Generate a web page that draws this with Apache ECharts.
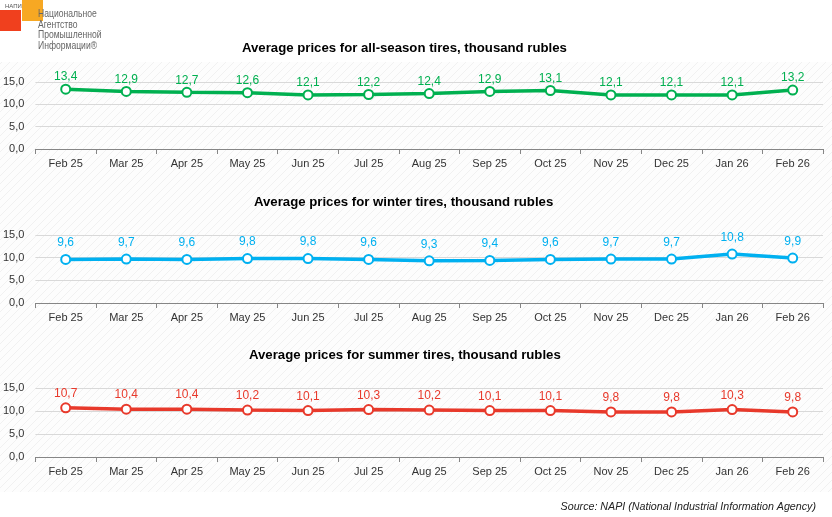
<!DOCTYPE html>
<html><head><meta charset="utf-8">
<script src="https://cdn.jsdelivr.net/npm/echarts@6/dist/echarts.min.js"></script>
<style>html,body{margin:0;padding:0;background:#fff}#c{width:832px;height:517px}</style>
</head><body><div id="c"></div>
<script>
const categories = ['Feb 25','Mar 25','Apr 25','May 25','Jun 25','Jul 25','Aug 25','Sep 25','Oct 25','Nov 25','Dec 25','Jan 26','Feb 26'];
const allSeason = [13.4,12.9,12.7,12.6,12.1,12.2,12.4,12.9,13.1,12.1,12.1,12.1,13.2];
const winter = [9.6,9.7,9.6,9.8,9.8,9.6,9.3,9.4,9.6,9.7,9.7,10.8,9.9];
const summer = [10.7,10.4,10.4,10.2,10.1,10.3,10.2,10.1,10.1,9.8,9.8,10.3,9.8];
const titles = ['Average prices for all-season tires, thousand rubles','Average prices for winter tires, thousand rubles','Average prices for summer tires, thousand rubles'];
const colors = ['#00B050','#00B0F0','#E8392B'];
const seriesData = [allSeason, winter, summer];

const pc = document.createElement('canvas'); pc.width = 8; pc.height = 8;
const pctx = pc.getContext('2d');
pctx.fillStyle = '#fdfdfd'; pctx.fillRect(0,0,8,8);
pctx.strokeStyle = '#f1f1f1'; pctx.lineWidth = 1;
pctx.beginPath(); pctx.moveTo(0,8); pctx.lineTo(8,0); pctx.moveTo(-4,4); pctx.lineTo(4,-4); pctx.moveTo(4,12); pctx.lineTo(12,4); pctx.stroke();

const tops = [82, 235, 388];
const heights = [67, 68, 69];
const titleY = [37, 191, 344];
const titleX = [237, 249, 244];
const labelDist = [0.5, 5, 2.5];
const fmt = v => v.toFixed(1).replace('.', ',');

const grids = [], xAxes = [], yAxes = [], series = [], titleArr = [];
for (let i = 0; i < 3; i++) {
  grids.push({left: 35, right: 9, top: tops[i], height: heights[i]});
  xAxes.push({type: 'category', gridIndex: i, data: categories, boundaryGap: true,
    axisLine: {lineStyle: {color: '#868686'}}, axisTick: {show: true, length: 5, lineStyle: {color: '#868686'}},
    axisLabel: {color: '#333', fontSize: 11, fontFamily: 'Liberation Sans, Arial', margin: 9}});
  yAxes.push({type: 'value', gridIndex: i, min: 0, max: 15, interval: 5,
    axisLine: {show: false}, axisTick: {show: false},
    splitLine: {lineStyle: {color: '#d9d9d9'}},
    axisLabel: {color: '#333', fontSize: 11, fontFamily: 'Liberation Sans, Arial', formatter: fmt, margin: 11}});
  series.push({type: 'line', xAxisIndex: i, yAxisIndex: i, data: seriesData[i],
    symbol: 'circle', symbolSize: 9,
    itemStyle: {color: '#fff', borderColor: colors[i], borderWidth: 2},
    lineStyle: {color: colors[i], width: 3.5},
    label: {show: true, position: 'top', distance: labelDist[i], color: colors[i], fontSize: 12, fontFamily: 'Liberation Sans, Arial', formatter: p => fmt(p.value)},
    animation: false});
  titleArr.push({text: titles[i], left: titleX[i], top: titleY[i],
    textStyle: {fontSize: 13.2, fontWeight: 'bold', color: '#000', fontFamily: 'Liberation Sans, Arial'}});
}
titleArr.push({text: 'Source: NAPI (National Industrial Information Agency)', right: 11, top: 497,
  textStyle: {fontSize: 10.7, fontStyle: 'italic', fontWeight: 'normal', color: '#222', fontFamily: 'Liberation Sans, Arial'}});

const chart = echarts.init(document.getElementById('c'));
chart.setOption({
  backgroundColor: '#fff',
  animation: false,
  title: titleArr,
  grid: grids, xAxis: xAxes, yAxis: yAxes, series: series,
  graphic: [
    {type: 'rect', shape: {x: 0, y: 62, width: 832, height: 430}, style: {fill: {image: pc, repeat: 'repeat'}}, z: -10, silent: true},
    {type: 'rect', shape: {x: 0, y: 10, width: 21, height: 21}, style: {fill: '#F0401E'}},
    {type: 'rect', shape: {x: 22, y: 0, width: 21, height: 21}, style: {fill: '#F7A823'}},
    {type: 'text', x: 5, y: 3, style: {text: 'НАПИ', fontSize: 6, fill: '#555', fontFamily: 'Liberation Sans Narrow, Liberation Sans'}},
    {type: 'text', x: 38, y: 9, scaleX: 0.78, style: {text: 'Национальное\nАгентство\nПромышленной\nИнформации®', fontSize: 11, lineHeight: 10.5, fill: '#666', fontFamily: 'Liberation Sans Narrow, Liberation Sans'}}
  ]
});
</script></body></html>
